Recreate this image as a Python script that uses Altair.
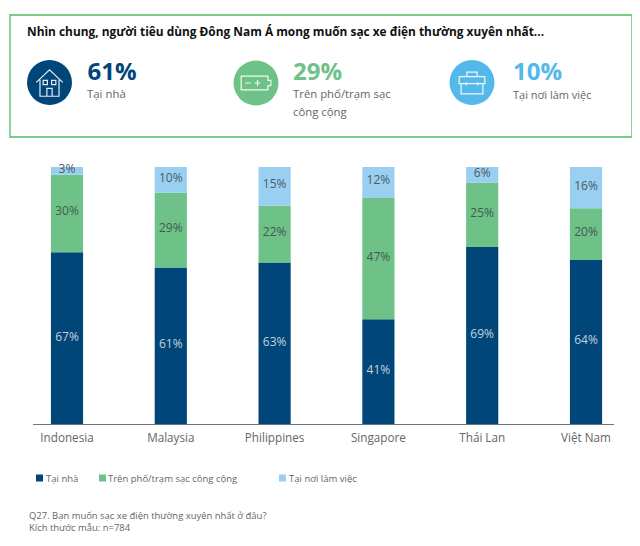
import altair as alt
import pandas as pd

countries = ["Indonesia", "Malaysia", "Philippines", "Singapore", "Thái Lan", "Việt Nam"]
home = [67, 61, 63, 41, 69, 64]
public = [30, 29, 22, 47, 25, 20]
work = [3, 10, 15, 12, 6, 16]
series_names = ["Tại nhà", "Trên phố/trạm sạc công cộng", "Tại nơi làm việc"]
series_values = [home, public, work]
colors = ["#004679", "#6fc287", "#99d0f2"]
label_colors = ["#c4d2de", "#3f5a50", "#4d5a62"]
FONT = "Open Sans"

rows = []
for name, vals in zip(series_names, series_values):
    for c, v in zip(countries, vals):
        rows.append({"country": c, "series": name, "value": v, "label": f"{v}%"})
df = pd.DataFrame(rows)
df["order"] = df["series"].map({n: i for i, n in enumerate(series_names)})

W, H = 640, 546
OX, OY = 8, 8
def px(v): return alt.value(v - OX)
def py(v): return alt.value(v - OY)

x_scale = alt.Scale(domain=countries, range=[67 - 51.9 - OX, 586 + 51.9 - OX], paddingInner=0.69, paddingOuter=0.345)
y_scale = alt.Scale(domain=[0, 100], range=[425 - OY, 167 - OY], nice=False)

base = alt.Chart(df)
bars = base.mark_bar(clip=False).encode(
    x=alt.X("country:N", scale=x_scale, sort=countries, axis=None),
    y=alt.Y("sum(value):Q", scale=y_scale, stack="zero", axis=None),
    color=alt.Color("series:N", scale=alt.Scale(domain=series_names, range=colors), legend=None),
    order=alt.Order("order:Q"),
)

# data labels: one layer per series so each can take its own text colour
label_layers = []
stacked = base.transform_stack(
    stack="value", as_=["v0", "v1"], groupby=["country"], sort=[alt.SortField("order")]
).transform_calculate(mid="(datum.v0+datum.v1)/2")
for name, lc in zip(series_names, label_colors):
    label_layers.append(
        stacked.transform_filter(alt.datum.series == name).mark_text(
            font=FONT, fontSize=12, dy=-2, color=lc
        ).encode(
            x=alt.X("country:N", scale=x_scale, sort=countries, axis=None),
            y=alt.Y("mid:Q", scale=y_scale, axis=None),
            text="label:N",
        )
    )

country_labels = alt.Chart(pd.DataFrame({"country": countries})).mark_text(
    font=FONT, fontSize=11.7, color="#666666", baseline="alphabetic"
).encode(
    x=alt.X("country:N", scale=x_scale, sort=countries, axis=None),
    y=py(441.5),
    text="country:N",
)
axis_line = alt.Chart(pd.DataFrame({"a": [0]})).mark_rule(color="#6b7480", strokeWidth=1.2).encode(
    x=px(33), x2=px(614), y=py(424.5))

def text(t, x, y, size=12, color="#666666", weight="normal", align="left"):
    return alt.Chart(pd.DataFrame({"t": [t]})).mark_text(
        font=FONT, fontSize=size, color=color, fontWeight=weight, align=align, baseline="alphabetic"
    ).encode(x=px(x), y=py(y), text="t:N")

frame = alt.Chart(pd.DataFrame({"a": [0]})).mark_rect(
    fill="white", stroke="#4dbd66", strokeWidth=1.3
).encode(x=px(10), x2=px(632), y=py(15), y2=py(137))

def circle(x, y, d, color):
    return alt.Chart(pd.DataFrame({"a": [0]})).mark_point(
        filled=True, color=color, opacity=1, size=d * d, shape="circle"
    ).encode(x=px(x), y=py(y))

def icon(path, x, y, s):
    return alt.Chart(pd.DataFrame({"a": [0]})).mark_point(
        shape=path, filled=False, color="white", opacity=0.9, size=s, strokeWidth=1.2
    ).encode(x=px(x), y=py(y))

# icon glyphs: shape paths in Vega's unit square
house = ("M-1,-0.05 L0,-1 L1,-0.05 M-0.72,-0.25 L-0.72,1 L0.72,1 L0.72,-0.25 "
         "M-0.2,1 L-0.2,0.4 L0.2,0.4 L0.2,1 "
         "M-0.48,-0.2 L-0.16,-0.2 L-0.16,0.12 L-0.48,0.12 Z M0.16,-0.2 L0.48,-0.2 L0.48,0.12 L0.16,0.12 Z")
battery = ("M-1,-0.47 L0.8,-0.47 L0.8,-0.18 L1,-0.18 L1,0.18 L0.8,0.18 L0.8,0.47 L-1,0.47 Z "
           "M-0.72,0 L-0.35,0 M-0.1,0 L0.3,0 M0.1,-0.2 L0.1,0.2")
case = ("M-1,-0.5 L1,-0.5 L1,0.05 L-1,0.05 Z M-0.85,0.05 L-0.85,0.85 L0.85,0.85 L0.85,0.05 "
        "M-0.4,-0.5 L-0.4,-0.85 L0.4,-0.85 L0.4,-0.5 "
        "M-0.45,-0.08 L-0.45,0.2 M0.45,-0.08 L0.45,0.2")

layers = [
    frame,
    text("Nhìn chung, người tiêu dùng Đông Nam Á mong muốn sạc xe điện thường xuyên nhất...", 27, 36, 11.88, "#111111", "bold"),
    circle(49.5, 82.5, 45, "#004679"), icon(house, 49.5, 83, 700),
    circle(256, 83, 45, "#6fc287"), icon(battery, 256, 83, 880),
    circle(472, 82.5, 45, "#53b8ea"), icon(case, 472, 83, 660),
    text("61%", 87.5, 80, 24, "#004679", "bold"),
    text("Tại nhà", 87, 98, 11.4, "#666666"),
    text("29%", 293, 80, 24, "#6fc287", "bold"),
    text("Trên phố/trạm sạc", 293, 98, 11.35, "#666666"),
    text("công cộng", 293, 116, 11.35, "#666666"),
    text("10%", 513, 80, 24, "#53b8ea", "bold"),
    text("Tại nơi làm việc", 513, 99, 11, "#666666"),
    bars, *label_layers, axis_line, country_labels,
]
# legend swatches and labels
for name, col, sx, tx in zip(series_names, colors, [36, 99, 279], [46, 108, 289]):
    layers.append(alt.Chart(pd.DataFrame({"a": [0]})).mark_rect(color=col).encode(
        x=px(sx), x2=px(sx + 7), y=py(474.5), y2=py(481.5)))
    layers.append(text(name, tx, 481.5, 9.5, "#666666"))
layers.append(text("Q27. Bạn muốn sạc xe điện thường xuyên nhất ở đâu?", 29, 519, 9.45, "#666666"))
layers.append(text("Kích thước mẫu: n=784", 29, 531, 9.45, "#666666"))

chart = alt.layer(*layers).properties(
    width=W - 16, height=H - 16,
    autosize=alt.AutoSizeParams(type="none"), padding=0,
).configure_view(stroke=None)
chart.save("out.html", embed_options={"renderer": "svg", "actions": False})
